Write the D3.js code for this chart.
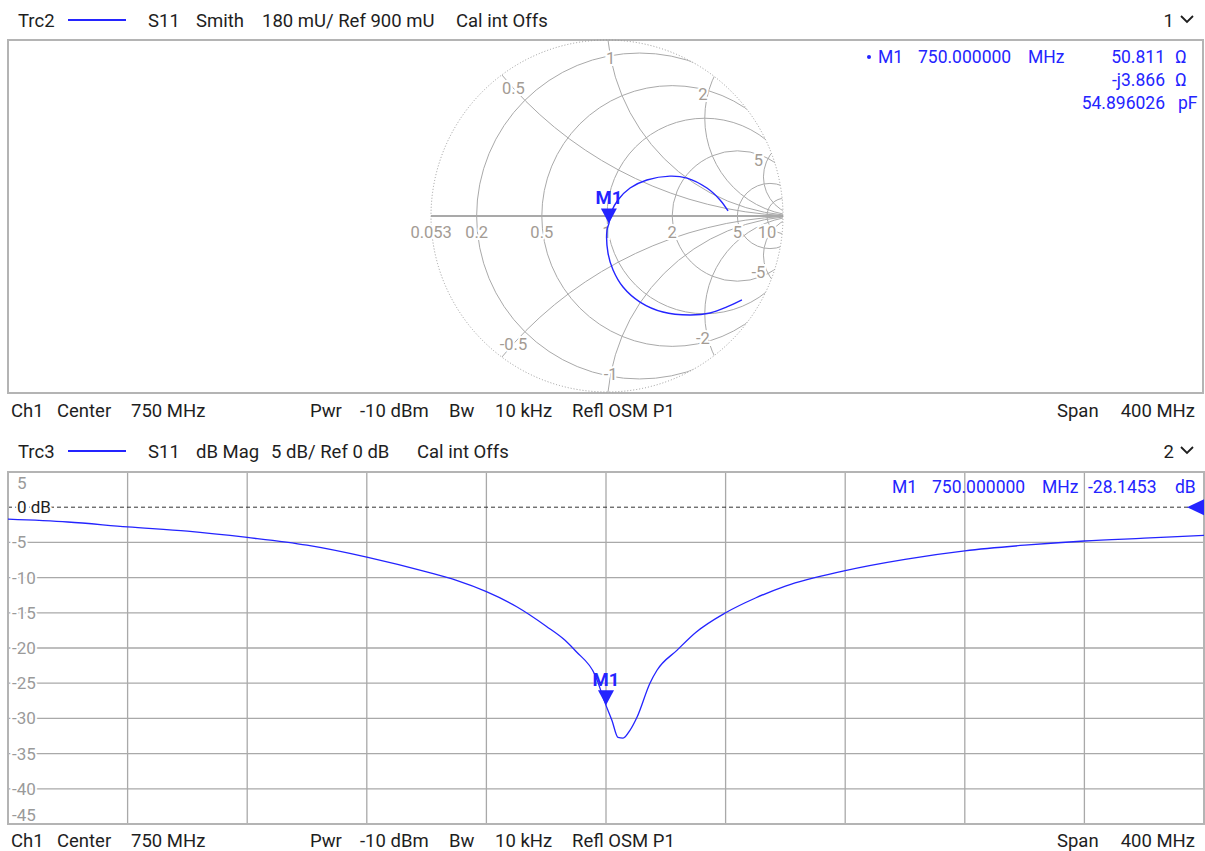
<!DOCTYPE html>
<html>
<head>
<meta charset="utf-8">
<script src="https://cdn.jsdelivr.net/npm/d3@7"></script>
<style>
  body { margin: 0; background: #fff; }
  svg { display: block; font-family: Roboto, "Noto Sans", sans-serif; }
</style>
</head>
<body>
<svg id="chart" width="1205" height="851"></svg>
<script>
// Trc2: S11 on the Smith chart, reflection coefficient, 550 -> 950 MHz
var smithRe = [0.690, 0.613, 0.527, 0.424, 0.286, 0.169, 0.082, 0.031, 0.005, 0.000, 0.010, 0.022, 0.056, 0.118, 0.204, 0.322, 0.409, 0.511, 0.578, 0.619];
var smithIm = [-0.429, -0.465, -0.496, -0.506, -0.491, -0.440, -0.363, -0.276, -0.189, -0.072, -0.038, 0.020, 0.082, 0.143, 0.184, 0.204, 0.194, 0.143, 0.082, 0.026];

// Trc3: S11 dB Mag
var freqMHz = [550, 570, 590, 610, 630, 650, 670, 690, 700, 710, 720, 730, 736.3, 740, 746.3, 750, 752, 754, 755.7, 758, 760.4, 764.7, 767, 773.8, 780, 790, 800, 810, 830, 850, 870, 890, 910, 930, 950];
var magDb = [-1.7, -2.1, -2.8, -3.4, -4.3, -5.4, -7.1, -9.2, -10.4, -12.0, -14.1, -16.9, -18.9, -20.5, -23.8, -28.15, -30.3, -32.7, -32.8, -31.7, -29.8, -25.0, -23.2, -20.3, -17.8, -15.0, -12.9, -11.2, -9.0, -7.4, -6.2, -5.4, -4.8, -4.4, -4.0];

// marker M1
var markerFreq = 750;
var markerDb = -28.1453;
var markerOhm = [50.811, -3.866];   // R, X at the marker
var markerPF = 54.896026;
var z0 = 50;

// Smith grid
var rCircles = [0.2, 0.5, 1, 2, 5, 10];
var xArcs = [0.5, 1, 2, 5, 10];
var xLabels = [0.5, 1, 2, 5, -0.5, -1, -2, -5];
var rLabels = ["0.053", "0.2", "0.5", "1", "2", "5", "10"];

// dB grid
var dbTicks = [5, 0, -5, -10, -15, -20, -25, -30, -35, -40, -45];
var freqGrid = [590, 630, 670, 710, 750, 790, 830, 870, 910];

var ink = "#1e1e1e", gridCol = "#a9a9a9", labCol = "#a39b94", blue = "#2424ff", frameCol = "#b4b4b4";
var svg = d3.select("#chart");

function txt(x, y, s, size, color, anchor) {
  return svg.append("text").attr("x", x).attr("y", y).text(s)
    .attr("font-size", size).attr("fill", color || ink)
    .attr("text-anchor", anchor || "start");
}

// header / footer rows
function header(y, trc, items, num) {
  txt(18, y, trc, 18.5);
  svg.append("line").attr("x1", 68).attr("x2", 126).attr("y1", y - 7).attr("y2", y - 7)
    .attr("stroke", blue).attr("stroke-width", 2);
  items.forEach(function(d) { txt(d[0], y, d[1], 18.5); });
  txt(1174, y, num, 18.5, ink, "end");
  svg.append("path").attr("d", "M1181," + (y - 11) + "l6,6l6,-6")
    .attr("fill", "none").attr("stroke", ink).attr("stroke-width", 1.8);
}
function footer(y) {
  [[11, "Ch1"], [57, "Center"], [131, "750 MHz"], [310, "Pwr"], [360, "-10 dBm"],
   [449, "Bw"], [495, "10 kHz"], [572, "Refl OSM P1"], [1057, "Span"]]
    .forEach(function(d) { txt(d[0], y, d[1], 18.5); });
  txt(1195, y, "400 MHz", 18.5, ink, "end");
}
header(27, "Trc2", [[148, "S11"], [196, "Smith"], [262, "180 mU/ Ref 900 mU"], [456, "Cal int Offs"]], "1");
footer(417);
header(458, "Trc3", [[148, "S11"], [196, "dB Mag"], [271, "5 dB/ Ref 0 dB"], [417, "Cal int Offs"]], "2");
footer(847);

// ---------------- Smith chart ----------------
svg.append("rect").attr("x", 8).attr("y", 40).attr("width", 1195).attr("height", 353)
  .attr("fill", "none").attr("stroke", frameCol).attr("stroke-width", 2);

var cx = 607, cy = 216, rad = 176;
var gx = d3.scaleLinear().domain([-0.9, 0.9]).range([cx - rad, cx + rad]);
var gy = d3.scaleLinear().domain([-0.9, 0.9]).range([cy + rad, cy - rad]);
var k = rad / 0.9;

svg.append("clipPath").attr("id", "disk").append("circle")
  .attr("cx", cx).attr("cy", cy).attr("r", rad);
var sg = svg.append("g").attr("clip-path", "url(#disk)")
  .attr("fill", "none").attr("stroke", gridCol).attr("stroke-width", 1);

rCircles.forEach(function(r) {
  sg.append("circle").attr("cx", gx(r / (1 + r))).attr("cy", gy(0)).attr("r", k / (1 + r));
});
xArcs.forEach(function(x) {
  [x, -x].forEach(function(v) {
    sg.append("circle").attr("cx", gx(1)).attr("cy", gy(1 / v)).attr("r", k / Math.abs(v));
  });
});
sg.append("line").attr("x1", gx(-0.9)).attr("x2", gx(0.9)).attr("y1", gy(0)).attr("y2", gy(0))
  .attr("stroke-width", 2);

svg.append("circle").attr("cx", cx).attr("cy", cy).attr("r", rad)
  .attr("fill", "none").attr("stroke", "#9a9a9a").attr("stroke-dasharray", "1,2");

function gamma(r, x) {
  var d = (r + 1) * (r + 1) + x * x;
  return [(r * r - 1 + x * x) / d, 2 * x / d];
}
function halo(sel) {
  return sel.attr("stroke", "#fff").attr("stroke-width", 4).attr("paint-order", "stroke");
}

// resistance labels on the real axis
rLabels.forEach(function(s) {
  var r = +s;
  halo(txt(gx((r - 1) / (r + 1)), gy(0) + 22, s, 16.5, labCol, "middle"));
});
// reactance labels along the arcs, near the rim (nudged inwards for the large ones)
xLabels.forEach(function(v) {
  var a = Math.abs(v), rho = a >= 5 ? 0.87 : 0.81, g = gamma(0, v);
  for (var r = 0; r < 5; r += 0.0005) {
    g = gamma(r, v);
    if (Math.hypot(g[0], g[1]) <= rho) break;
  }
  var dx = a >= 5 ? -9 : a >= 2 ? -5 : 0;
  halo(txt(gx(g[0]) + dx, gy(g[1]) + 6, String(v), 16.5, labCol, "middle"));
});

// trace
var smithPts = smithRe.map(function(re, i) { return [gx(re), gy(smithIm[i])]; });
svg.append("path").attr("d", d3.line().curve(d3.curveCatmullRom)(smithPts))
  .attr("fill", "none").attr("stroke", blue).attr("stroke-width", 1.4);

function marker(px, py) {
  svg.append("path").attr("d", "M" + (px - 8) + "," + (py - 15) + "h16L" + px + "," + py + "Z")
    .attr("fill", blue);
  txt(px, py - 19, "M1", 18.5, blue, "middle").attr("font-weight", "bold");
}
var gm = gamma(markerOhm[0] / z0, markerOhm[1] / z0);
marker(gx(gm[0]), gy(gm[1]));

// marker readout
svg.append("circle").attr("cx", 869).attr("cy", 57).attr("r", 2).attr("fill", blue);
txt(878, 63, "M1", 17.5, blue);
txt(918, 63, markerFreq.toFixed(6), 17.5, blue);
txt(1028, 63, "MHz", 17.5, blue);
txt(1165, 63, markerOhm[0].toFixed(3), 17.5, blue, "end");
txt(1175, 63, "\u03a9", 17.5, blue);
txt(1165, 86, "-j" + Math.abs(markerOhm[1]).toFixed(3), 17.5, blue, "end");
txt(1175, 86, "\u03a9", 17.5, blue);
txt(1165, 109, markerPF.toFixed(6), 17.5, blue, "end");
txt(1178, 109, "pF", 17.5, blue);

// ---------------- dB Mag ----------------
var x = d3.scaleLinear().domain([550, 950]).range([8, 1204]);
var y = d3.scaleLinear().domain([-45, 5]).range([824, 472]);

var bg = svg.append("g").attr("stroke", gridCol).attr("stroke-width", 1.3);
freqGrid.forEach(function(f) {
  bg.append("line").attr("x1", x(f)).attr("x2", x(f)).attr("y1", y(5)).attr("y2", y(-45));
});
dbTicks.filter(function(d) { return d < 0 && d > -45; }).forEach(function(d) {
  bg.append("line").attr("x1", x(550)).attr("x2", x(950)).attr("y1", y(d)).attr("y2", y(d));
});
svg.append("line").attr("x1", x(550)).attr("x2", x(950) - 16).attr("y1", y(0)).attr("y2", y(0))
  .attr("stroke", "#333").attr("stroke-dasharray", "4,3").attr("stroke-width", 1);

dbTicks.forEach(function(d) {
  var s = d === 0 ? "0 dB" : String(d);
  var yy = d === 5 ? y(d) + 17 : d === -45 ? y(d) - 3 : y(d) + 6;
  halo(txt(d < 0 ? 12 : 17, yy, s, 17, d === 0 ? ink : "#9a9a9a"));
});

svg.append("rect").attr("x", 8).attr("y", 472).attr("width", 1196).attr("height", 352)
  .attr("fill", "none").attr("stroke", frameCol).attr("stroke-width", 2);

svg.append("clipPath").attr("id", "plot").append("rect")
  .attr("x", 8).attr("y", 472).attr("width", 1196).attr("height", 352);
var dbLine = d3.line().x(function(d, i) { return x(freqMHz[i]); }).y(function(d) { return y(d); })
  .curve(d3.curveMonotoneX);
svg.append("path").attr("clip-path", "url(#plot)").attr("d", dbLine(magDb))
  .attr("fill", "none").attr("stroke", blue).attr("stroke-width", 1.3);

marker(x(markerFreq), y(markerDb));

// reference level arrow
svg.append("path").attr("d", "M" + (x(950) - 17) + "," + y(0) + "L" + x(950) + "," + (y(0) - 8) + "v16Z")
  .attr("fill", blue);

txt(892, 493, "M1", 17.5, blue);
txt(932, 493, markerFreq.toFixed(6), 17.5, blue);
txt(1042, 493, "MHz", 17.5, blue);
txt(1088, 493, markerDb.toFixed(4), 17.5, blue);
txt(1175, 493, "dB", 17.5, blue);
</script>
</body>
</html>
